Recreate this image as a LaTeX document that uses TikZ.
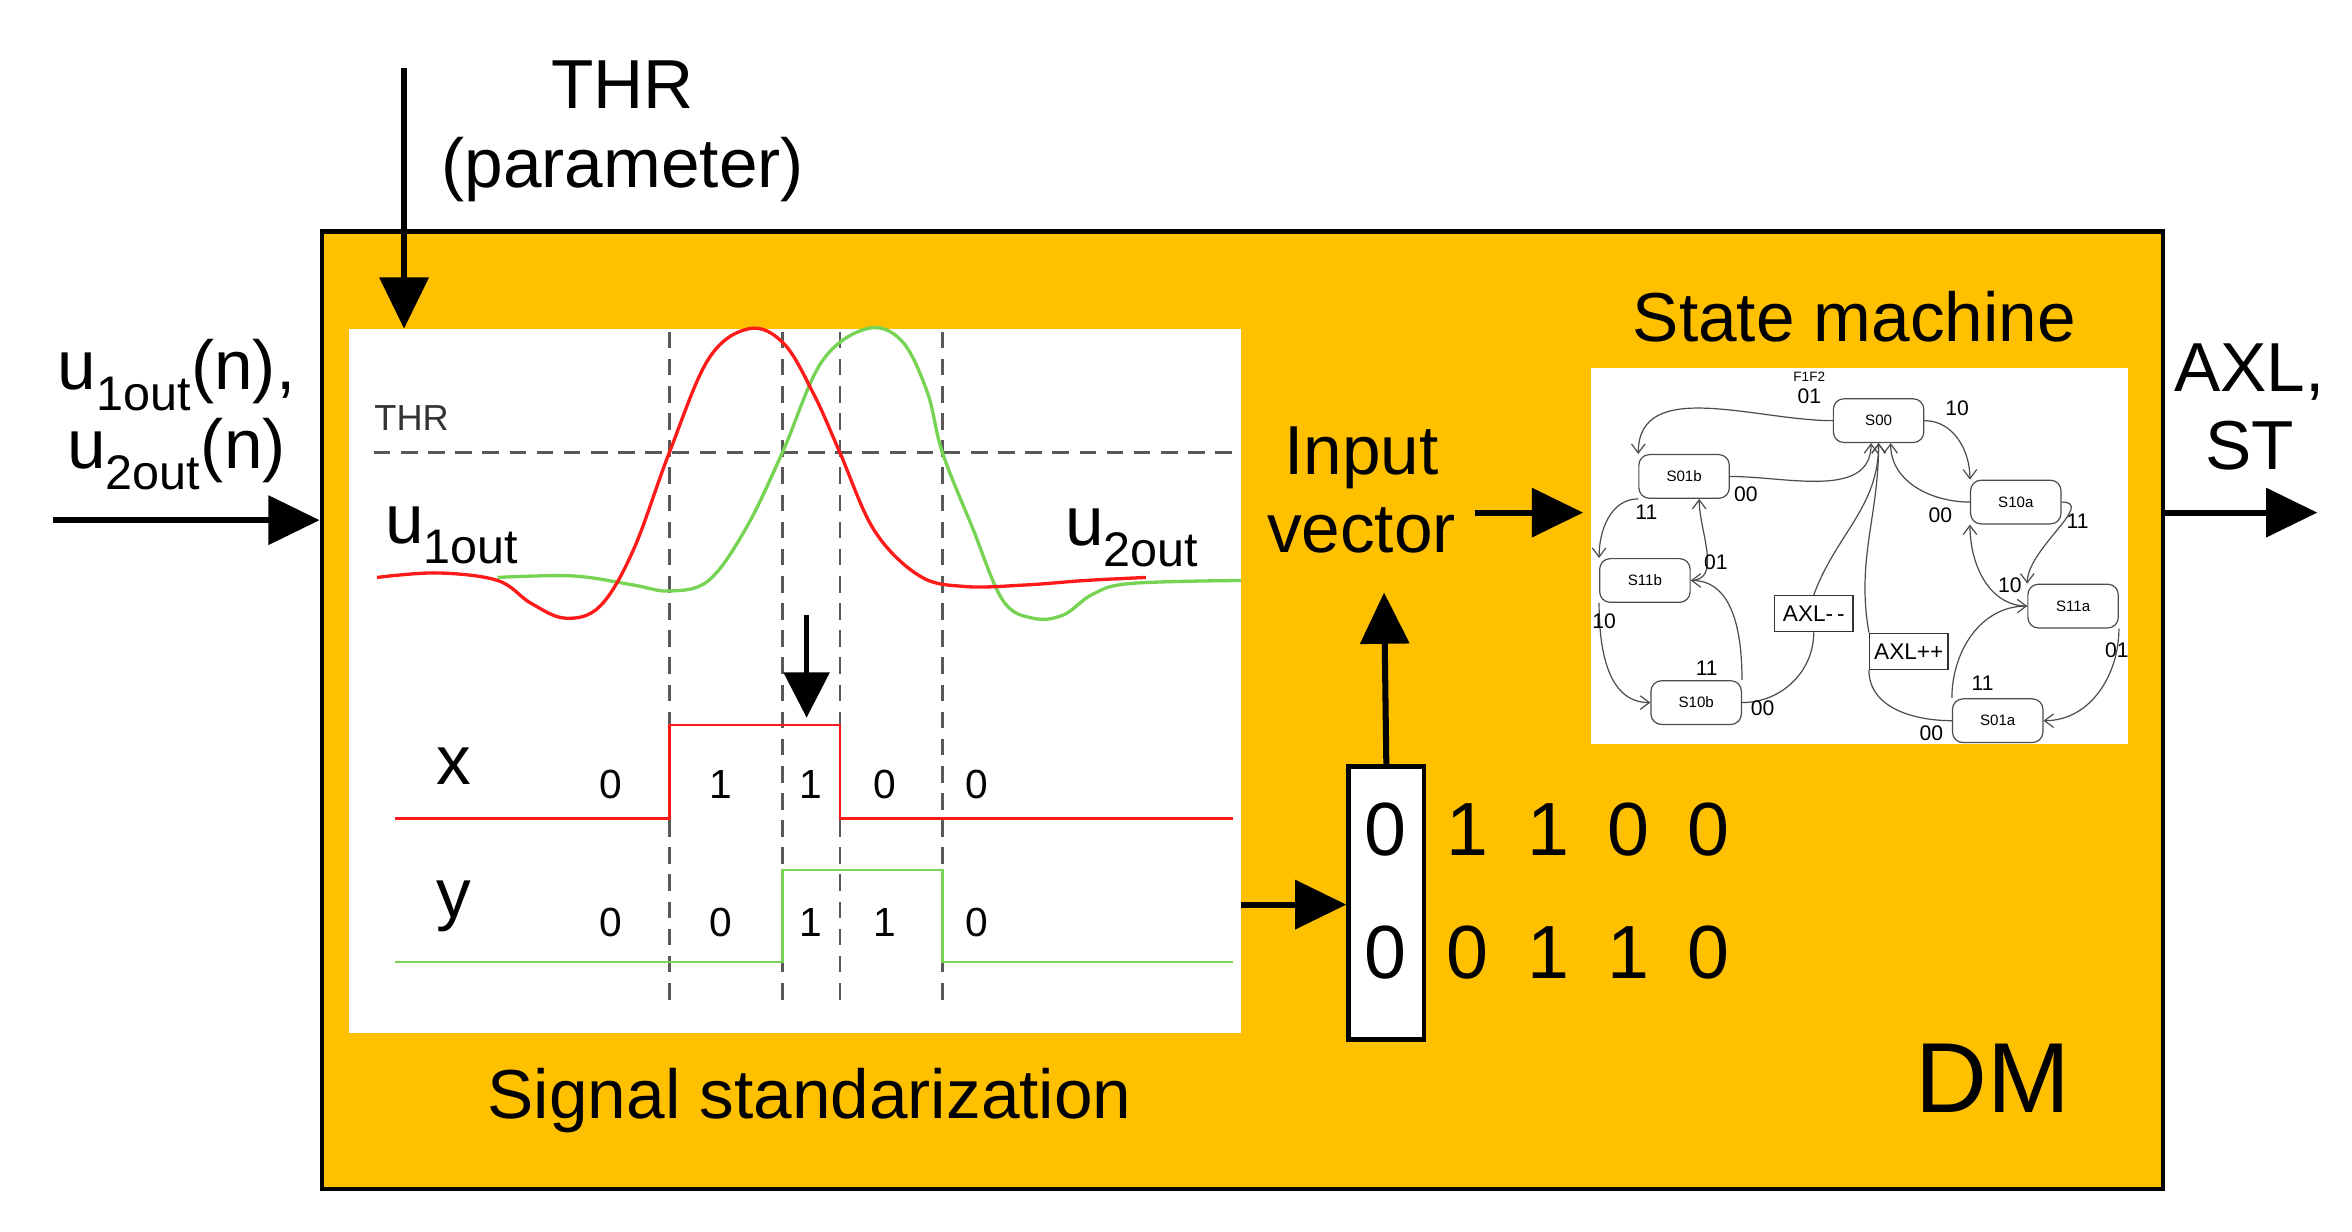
\documentclass[tikz,border=0pt]{standalone}
\usepackage{fontspec}
\setmainfont{Liberation Sans}
\usetikzlibrary{arrows.meta}
\definecolor{dmorange}{HTML}{FFC000}
\definecolor{sred}{HTML}{FF1A1A}
\definecolor{sgreen}{HTML}{77D353}
\begin{document}
\begin{tikzpicture}[x=1pt,y=-1pt,
  big/.style={font=\fontsize{46}{52}\selectfont, align=center, inner sep=0pt},
  bit/.style={font=\fontsize{50}{56}\selectfont, inner sep=0pt},
  small/.style={font=\fontsize{27}{30}\selectfont, inner sep=0pt},
  bigarrow/.style={line width=4pt, -{Triangle[length=34pt,width=32pt]}},
  dashln/.style={dash pattern=on 11pt off 7pt, line width=1.6pt, draw=black!65},
  st/.style={draw=black!70, rounded corners=7pt, minimum width=60pt, minimum height=29pt, font=\fontsize{10}{11}\selectfont, fill=white, line width=0.8pt},
  axl/.style={draw=black!80, minimum width=52pt, minimum height=24pt, font=\fontsize{15}{16}\selectfont, inner sep=1pt, line width=0.8pt},
  tr/.style={draw=black!70, line width=0.8pt, -{Straight Barb[length=6pt,width=9pt]}},
  tl/.style={font=\fontsize{14}{15}\selectfont, inner sep=0pt}]
\useasboundingbox (0,0) rectangle (1560,817);
% main block
\node[draw=black, line width=3pt, fill=dmorange, minimum width=1221pt, minimum height=635pt, anchor=north west, inner sep=0pt] (dm) at (212,152) {};
\node[fill=white, minimum width=592pt, minimum height=467pt, anchor=north west, inner sep=0pt] (plot) at (231,218) {};
\node[fill=white, minimum width=356pt, minimum height=249pt, anchor=north west, inner sep=0pt] (sm) at (1055,244) {};
% plot contents
\foreach \xx in {444,519,557,625} \draw[dashln] (\xx,220) -- (\xx,668);
\draw[dashln] (248,300) -- (823,300);
\node[small, font=\fontsize{24}{26}\selectfont, text=black!80] (thrl) at (273,277) {THR};
\draw[sgreen, line width=2.2pt] plot[smooth, tension=0.6] coordinates {(330,383) (380,382) (420,388) (444,392) (470,385) (495,350) (519,300) (545,240) (575,218) (598,226) (615,260) (625,300) (645,350) (665,398) (685,410) (705,408) (725,394) (750,387) (823,385)};
\draw[sred, line width=2.2pt] plot[smooth, tension=0.6] coordinates {(250,383) (290,380) (330,385) (352,400) (375,410) (398,402) (420,365) (444,300) (470,238) (497,218) (520,228) (540,262) (557,300) (580,352) (610,382) (640,389) (680,388) (720,385) (760,383)};
\draw[sred, line width=1.6pt] (262,543) -- (444,543) -- (444,481) -- (557,481) -- (557,543) -- (818,543);
\draw[sgreen, line width=1.6pt] (262,638) -- (519,638) -- (519,577) -- (625,577) -- (625,638) -- (818,638);
\foreach \xx/\v in {405/0,478/1,538/1,587/0,648/0} \node[small] at (\xx,520) {\v};
\foreach \xx/\v in {405/0,478/0,538/1,587/1,648/0} \node[small] at (\xx,612) {\v};
\node[big] (xl) at (301,508) {x};
\node[big] (yl) at (301,601) {y};
\node[big] (u1) at (300,355) {u$_{\mathrm{1out}}$};
\node[big] (u2) at (751,357) {u$_{\mathrm{2out}}$};
\coordinate (pa1) at (535,408); \coordinate (pa2) at (535,476);
\draw[line width=3pt, -{Triangle[length=30pt,width=30pt]}] (pa1) -- (pa2);
% input vector
\node[draw=black, fill=white, line width=3pt, minimum width=50pt, minimum height=181pt, anchor=north west, inner sep=0pt] (iv) at (893,507) {};
\node[bit] (b1) at (919,550) {0};
\node[bit] (b2) at (919,632) {0};
\foreach \xx/\v in {973/1,1027/1,1080/0,1133/0} \node[bit] at (\xx,550) {\v};
\foreach \xx/\v in {973/0,1027/1,1080/1,1133/0} \node[bit] at (\xx,632) {\v};
\node[big] (ivl) at (903,325) {Input\\vector};
\coordinate (pr) at (823,600);
\draw[bigarrow] (pr) -- (iv.west |- pr);
\draw[bigarrow] (iv.north) -- (918,393);
\coordinate (ivr) at (978,340);
\draw[bigarrow] (ivr) -- (1050,340);
% outer texts and arrows
\node[big] (thr) at (413,87) {THR\\(parameter)};
\coordinate (thrs) at (268,45);
\draw[bigarrow] (thrs) -- (268,218);
\node[big] (uin) at (117,275) {u$_{\mathrm{1out}}$(n),\\u$_{\mathrm{2out}}$(n)};
\coordinate (ins) at (35,345);
\draw[bigarrow] (ins) -- (dm.west |- ins);
\node[big] (out) at (1492,270) {AXL,\\ST};
\coordinate (oute) at (1537,340);
\draw[bigarrow] (dm.east |- oute) -- (oute);
\node[big] (smt) at (1230,210) {State machine};
\node[big] (sst) at (537,730) {Signal standarization};
\node[big, font=\fontsize{66}{70}\selectfont] (dml) at (1322,715) {DM};
% state machine
\node[st] (s00) at (1246,279) {S00};
\node[st] (s01b) at (1117,316) {S01b};
\node[st] (s11b) at (1091,385) {S11b};
\node[st] (s10b) at (1125,466) {S10b};
\node[st] (s10a) at (1337,333) {S10a};
\node[st] (s11a) at (1375,402) {S11a};
\node[st] (s01a) at (1325,478) {S01a};
\node[axl] (am) at (1203,407) {AXL-\,-};
\node[axl] (ap) at (1266,432) {AXL++};
\draw[tr] (s00.west) to[out=180,in=90] (s01b.north west);
\draw[tr] (s01b.east) to[out=0,in=270] ([xshift=-5pt]s00.south);
\draw[tr] (s01b.south west) to[out=180,in=90] (s11b.north west);
\draw[tr] (s11b.east) to[out=0,in=270] ([xshift=10pt]s01b.south);
\draw[tr] (s11b.south west) to[out=270,in=180] (s10b.west);
\draw[tr] (s10b.north east) to[out=90,in=0] (s11b.east);
\draw[draw=black!70, line width=0.8pt] (s10b.east) to[out=0,in=270] (am.south);
\draw[tr] (am.north) to[out=70,in=270] (s00.south);
\draw[tr] (s00.east) to[out=0,in=90] (s10a.north west);
\draw[tr] (s10a.west) to[out=180,in=270] ([xshift=8pt]s00.south);
\draw[tr] (s10a.east) to[out=0,in=90] (s11a.north west);
\draw[tr] (s11a.west) to[out=180,in=270] (s10a.south west);
\draw[tr] (s11a.south east) to[out=270,in=0] (s01a.east);
\draw[tr] (s01a.north west) to[out=90,in=180] (s11a.west);
\draw[draw=black!70, line width=0.8pt] (s01a.west) to[out=180,in=270] (ap.south west);
\draw[tr] (ap.north west) to[out=100,in=270] (s00.south);
\node[tl, font=\fontsize{9}{10}\selectfont] at (1200,250) {F1F2};
\node[tl] at (1200,263) {01};
\node[tl] at (1298,271) {10};
\node[tl] at (1158,328) {00};
\node[tl] at (1092,340) {11};
\node[tl] at (1138,373) {01};
\node[tl] at (1064,412) {10};
\node[tl] at (1132,443) {11};
\node[tl] at (1169,470) {00};
\node[tl] at (1287,342) {00};
\node[tl] at (1378,346) {11};
\node[tl] at (1333,388) {10};
\node[tl] at (1404,431) {01};
\node[tl] at (1315,453) {11};
\node[tl] at (1281,486) {00};
\end{tikzpicture}
\end{document}
